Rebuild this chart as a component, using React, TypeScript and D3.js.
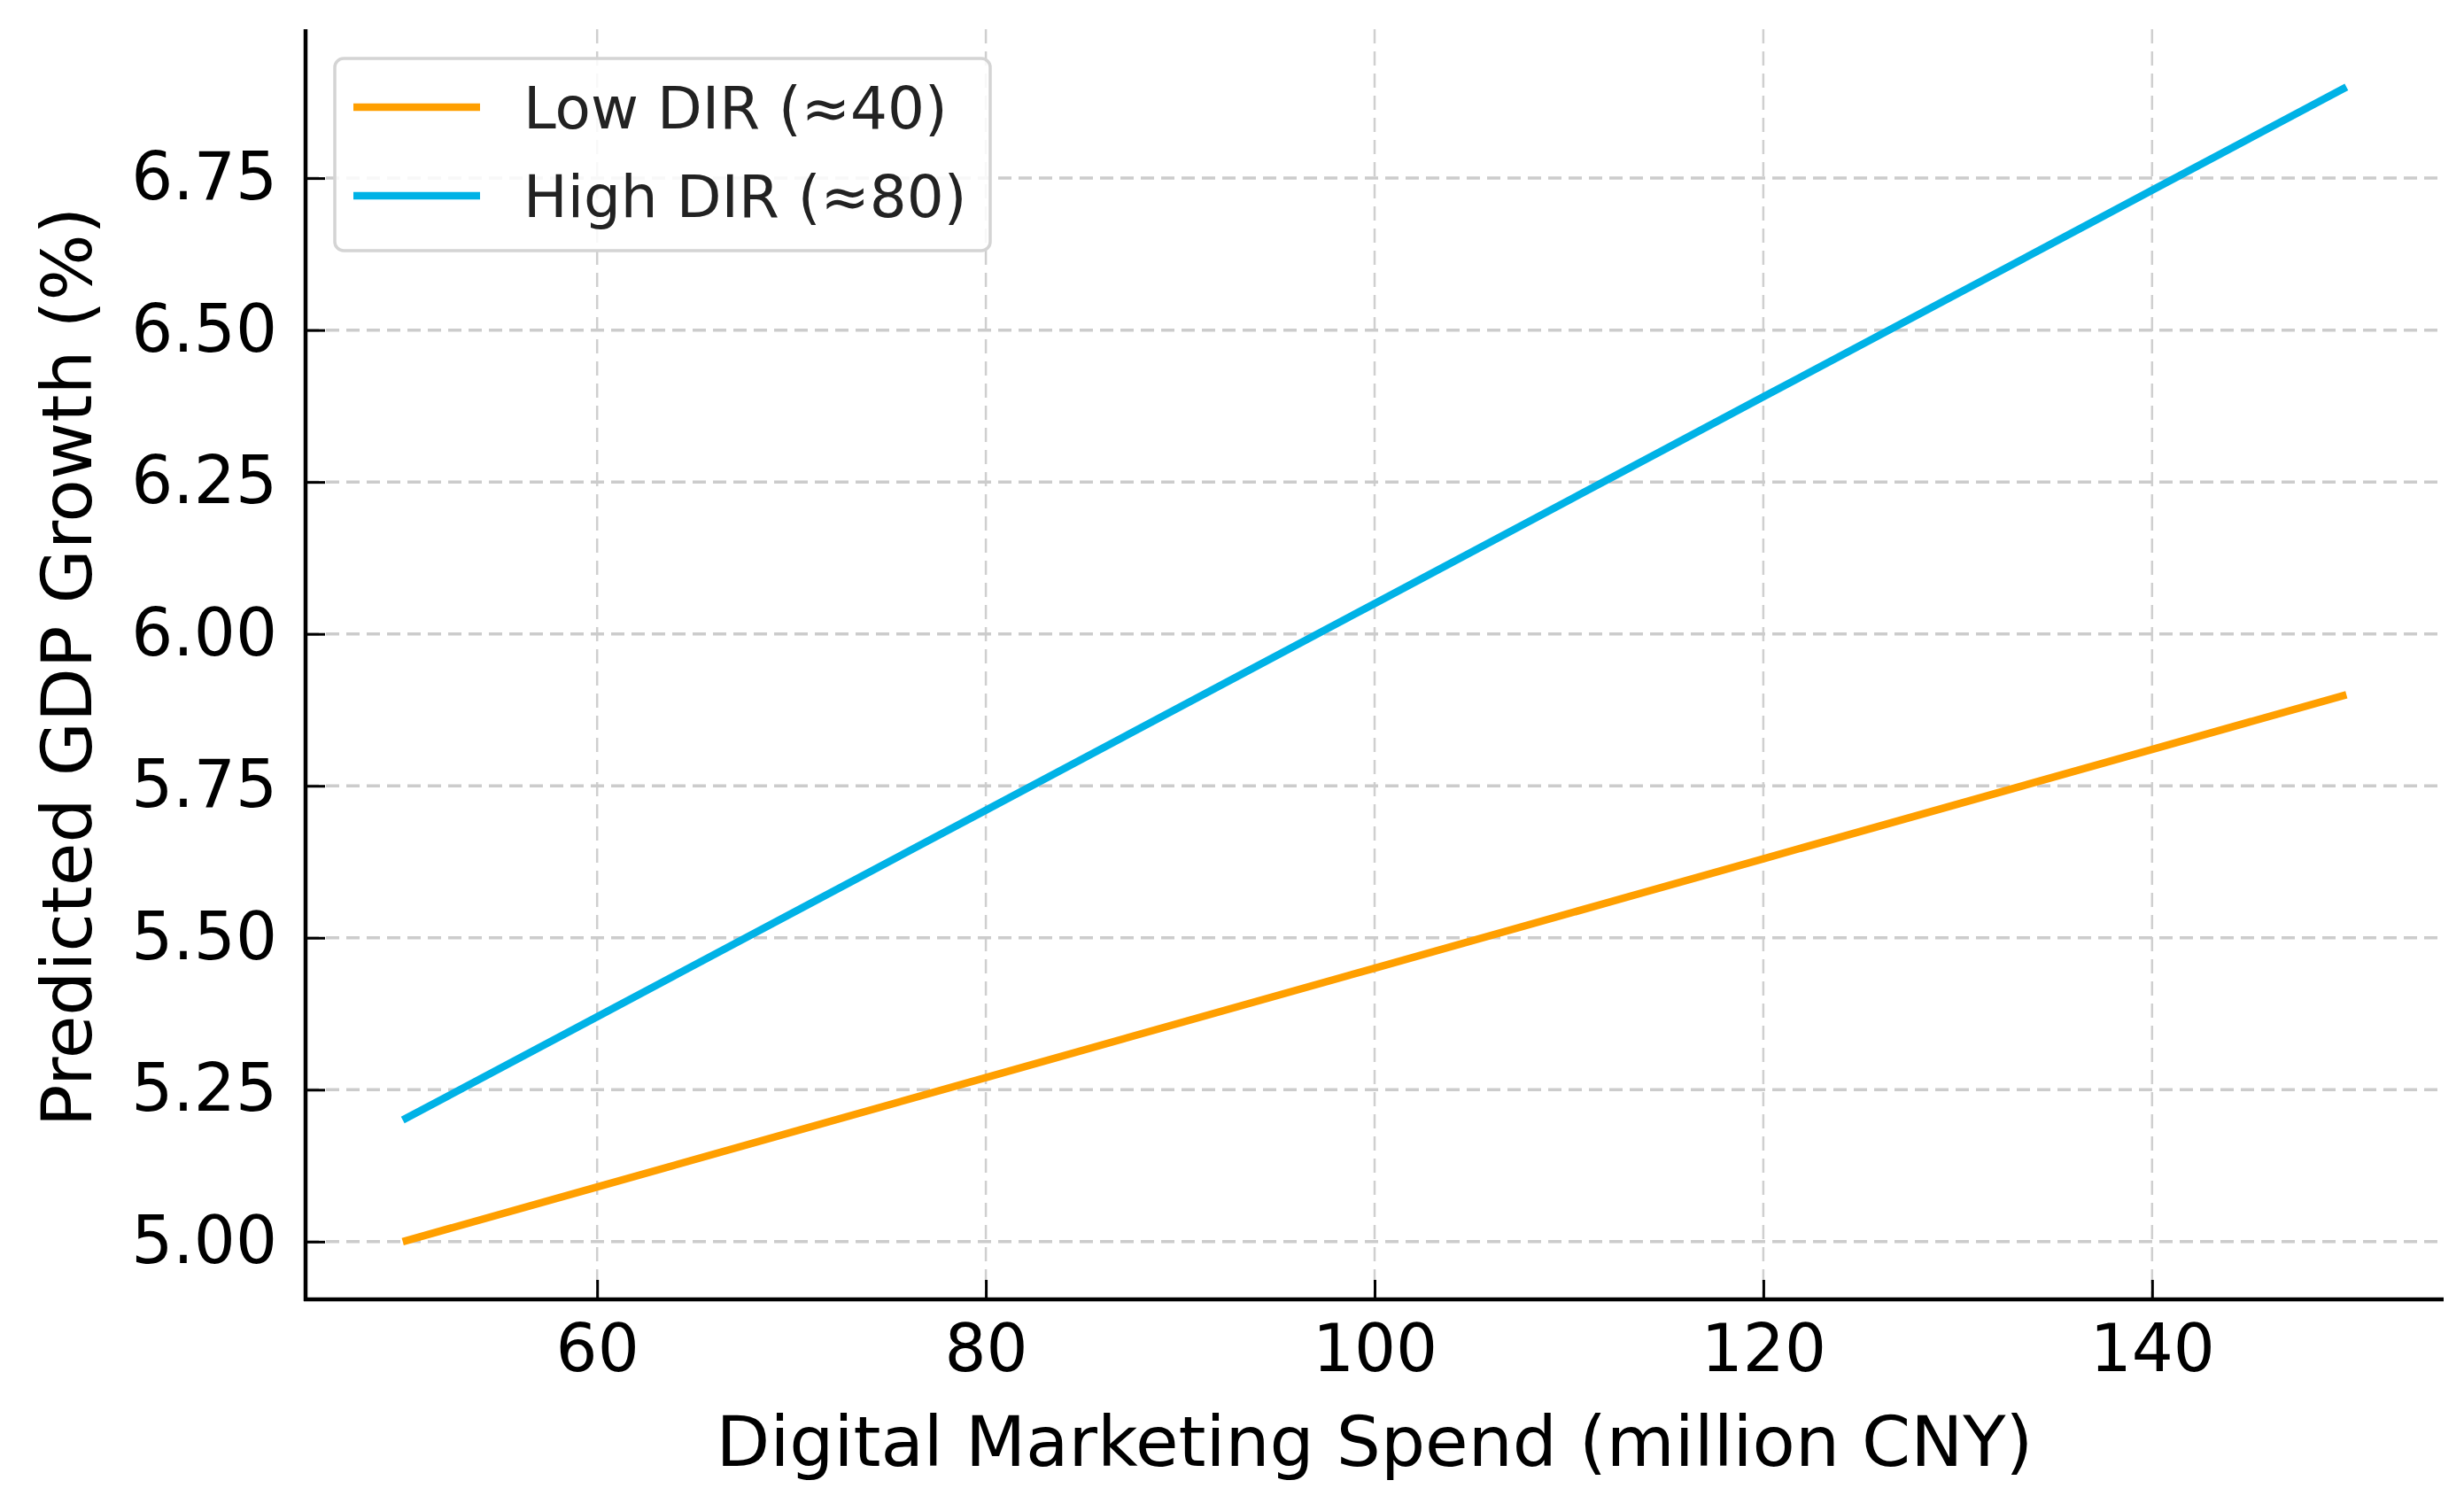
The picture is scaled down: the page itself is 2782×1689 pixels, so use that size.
import React, { useEffect, useRef } from 'react';
import * as d3 from 'd3';

// spend points (million CNY)
const spend = [50, 60, 80, 100, 120, 140, 150];
const lowDir = [5.0, 5.09, 5.27, 5.45, 5.63, 5.81, 5.9];
const highDir = [5.2, 5.37, 5.71, 6.05, 6.39, 6.73, 6.9];

const seriesNames = ['Low DIR (≈40)', 'High DIR (≈80)'];
const seriesColors = ['#ff9f00', '#00b2e6'];

const xTicks = [60, 80, 100, 120, 140];
const yTicks = [5.0, 5.25, 5.5, 5.75, 6.0, 6.25, 6.5, 6.75];

const App = () => {
  const container = useRef(null);

  const width = 2782;
  const height = 1689;
  const margins = { l: 345, t: 33, r: 23, b: 222 };
  const font = 'DejaVu Sans, sans-serif';

  useEffect(() => {
    createChart();
  }, []);

  const createChart = () => {
    const svg = d3
      .select(container.current)
      .selectAll('svg')
      .data([0])
      .join('svg')
      .attr('width', width)
      .attr('height', height)
      .style('position', 'absolute')
      .style('left', 0)
      .style('top', 0)
      .style('background', '#fff');

    svg.selectAll('*').remove();

    const xScale = d3
      .scaleLinear()
      .domain([45, 155])
      .range([margins.l, width - margins.r]);
    const yScale = d3
      .scaleLinear()
      .domain([4.905, 6.995])
      .range([height - margins.b, margins.t]);

    const x0 = margins.l;
    const y0 = height - margins.b;

    // grid
    svg
      .append('g')
      .selectAll('line')
      .data(xTicks)
      .join('line')
      .attr('x1', d => xScale(d))
      .attr('x2', d => xScale(d))
      .attr('y1', margins.t)
      .attr('y2', y0)
      .attr('stroke', '#cfcfcf')
      .attr('stroke-width', 2.5)
      .attr('stroke-dasharray', '16,9');

    svg
      .append('g')
      .selectAll('line')
      .data(yTicks)
      .join('line')
      .attr('x1', x0)
      .attr('x2', width - margins.r)
      .attr('y1', d => yScale(d))
      .attr('y2', d => yScale(d))
      .attr('stroke', '#cccccc')
      .attr('stroke-width', 3.5)
      .attr('stroke-dasharray', '15,8');

    // lines
    const line = d3
      .line<number>()
      .x((d, i) => xScale(spend[i]))
      .y(d => yScale(d));

    [lowDir, highDir].forEach((vals, k) => {
      svg
        .append('path')
        .datum(vals)
        .attr('d', line)
        .attr('fill', 'none')
        .attr('stroke', seriesColors[k])
        .attr('stroke-width', 8.5);
    });

    // axes
    const xAxis = d3
      .axisBottom(xScale)
      .tickValues(xTicks)
      .tickSize(-22)
      .tickPadding(28)
      .tickFormat(d3.format('d'));
    const xg = svg
      .append('g')
      .attr('transform', `translate(0,${y0})`)
      .call(xAxis);
    xg.select('.domain').remove();
    xg.selectAll('.tick line').attr('stroke', '#000').attr('stroke-width', 3);
    xg.selectAll('.tick text')
      .attr('font-family', font)
      .attr('font-size', 74)
      .attr('fill', '#000');

    const yAxis = d3
      .axisLeft(yScale)
      .tickValues(yTicks)
      .tickSize(-22)
      .tickPadding(32)
      .tickFormat(d3.format('.2f'));
    const yg = svg
      .append('g')
      .attr('transform', `translate(${x0},0)`)
      .call(yAxis);
    yg.select('.domain').remove();
    yg.selectAll('.tick line').attr('stroke', '#000').attr('stroke-width', 3);
    yg.selectAll('.tick text')
      .attr('font-family', font)
      .attr('font-size', 74)
      .attr('fill', '#000');

    // spines
    svg
      .append('line')
      .attr('x1', x0)
      .attr('x2', x0)
      .attr('y1', margins.t)
      .attr('y2', y0 + 2)
      .attr('stroke', '#000')
      .attr('stroke-width', 4.5);
    svg
      .append('line')
      .attr('x1', x0 - 2)
      .attr('x2', width - margins.r)
      .attr('y1', y0)
      .attr('y2', y0)
      .attr('stroke', '#000')
      .attr('stroke-width', 4.5);

    // axis labels
    svg
      .append('text')
      .attr('x', (x0 + width - margins.r) / 2)
      .attr('y', 1655)
      .attr('text-anchor', 'middle')
      .attr('font-family', font)
      .attr('font-size', 79)
      .attr('fill', '#000')
      .text('Digital Marketing Spend (million CNY)');

    svg
      .append('text')
      .attr('transform', `translate(103,${(margins.t + y0) / 2 + 3}) rotate(-90)`)
      .attr('text-anchor', 'middle')
      .attr('font-family', font)
      .attr('font-size', 79)
      .attr('fill', '#000')
      .text('Predicted GDP Growth (%)');

    // legend
    const lg = svg.append('g').attr('transform', 'translate(378,66)');
    lg.append('rect')
      .attr('width', 740)
      .attr('height', 217)
      .attr('rx', 10)
      .attr('fill', '#fff')
      .attr('fill-opacity', 0.85)
      .attr('stroke', '#d4d4d4')
      .attr('stroke-width', 3.5);

    seriesNames.forEach((name, k) => {
      const y = 55 + k * 100;
      lg.append('line')
        .attr('x1', 21)
        .attr('x2', 164)
        .attr('y1', y)
        .attr('y2', y)
        .attr('stroke', seriesColors[k])
        .attr('stroke-width', 8.5);
      lg.append('text')
        .attr('x', 213)
        .attr('y', y)
        .attr('dy', '0.36em')
        .attr('font-family', font)
        .attr('font-size', 66)
        .attr('fill', '#222')
        .text(name);
    });
  };

  return <div className="chart-container" ref={container}></div>;
};

export default App;
